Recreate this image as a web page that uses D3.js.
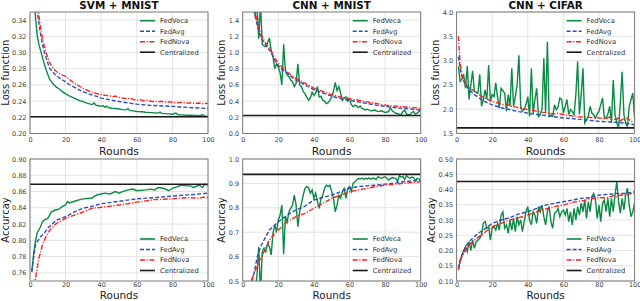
<!DOCTYPE html>
<html>
<head>
<meta charset="utf-8">
<script src="https://cdn.jsdelivr.net/npm/d3@7"></script>
<style>
body { margin: 0; background: #fff; }
text { font-family: "DejaVu Sans", sans-serif; }
</style>
</head>
<body>
<div class="grafico"></div>
<script>
// ---- dati: [round, valore] ----
var titoli = ["SVM + MNIST", "CNN + MNIST", "CNN + CIFAR"];
var nomiSerie = ["FedVeca", "FedAvg", "FedNova", "Centralized"];
var xTicks = [0, 20, 40, 60, 80, 100];

// Loss - SVM + MNIST
var svmLossVeca = [[1,0.5],[2,0.39],[3,0.345],[4,0.322],[5,0.31],[6,0.302],[7,0.294],[8,0.286],[9,0.279],[10,0.273],[11,0.267],[12,0.264],[13,0.261],[14,0.259],[15,0.257],[16,0.2555],[17,0.254],[18,0.252],[20,0.249],[22,0.2465],[24,0.2445],[26,0.2425],[28,0.2405],[30,0.239],[32,0.2375],[34,0.2362],[35,0.2358],[36,0.2378],[37,0.2348],[38,0.2345],[40,0.2335],[41,0.2345],[42,0.2325],[43,0.2338],[44,0.232],[46,0.2312],[48,0.2308],[50,0.2302],[52,0.2295],[54,0.2292],[55,0.2308],[56,0.2285],[58,0.228],[60,0.2272],[63,0.2268],[65,0.2262],[68,0.2258],[70,0.2255],[72,0.2252],[73,0.2265],[74,0.2248],[76,0.2245],[78,0.2242],[80,0.2238],[82,0.2252],[83,0.2232],[85,0.223],[88,0.2226],[90,0.2225],[93,0.2222],[95,0.222],[97,0.2232],[98,0.2218],[100,0.2215]];
var svmLossAvg = [[2,0.45],[3,0.38],[4,0.352],[5,0.336],[6,0.322],[7,0.31],[8,0.301],[9,0.294],[10,0.287],[11,0.281],[12,0.278],[14,0.273],[16,0.2695],[18,0.2665],[20,0.2637],[22,0.2605],[25,0.257],[28,0.2535],[30,0.2515],[33,0.249],[35,0.2475],[38,0.2455],[40,0.2437],[43,0.2425],[45,0.2415],[48,0.2402],[50,0.2395],[55,0.2378],[60,0.2362],[65,0.2352],[70,0.2345],[75,0.234],[80,0.2335],[85,0.2328],[90,0.232],[95,0.2315],[100,0.2308]];
var svmLossNova = [[3,0.45],[4,0.37],[5,0.345],[6,0.33],[7,0.318],[8,0.308],[9,0.3],[10,0.294],[11,0.288],[12,0.284],[14,0.278],[16,0.2745],[18,0.2725],[20,0.2707],[22,0.267],[25,0.262],[28,0.258],[30,0.2555],[33,0.2525],[35,0.251],[38,0.249],[40,0.2481],[42,0.2472],[45,0.2465],[47,0.2455],[48,0.2462],[50,0.2445],[53,0.2435],[55,0.243],[56,0.2438],[58,0.242],[60,0.2411],[62,0.2415],[64,0.2405],[66,0.241],[68,0.2398],[70,0.2395],[72,0.2392],[74,0.2398],[76,0.2388],[78,0.239],[80,0.2385],[83,0.238],[86,0.2385],[88,0.2375],[90,0.2378],[93,0.2372],[95,0.2376],[97,0.2368],[100,0.2372]];
var svmLossCentral = 0.2207;

// Loss - CNN + MNIST
var mnistLossVeca = [[6,1.7],[7,1.45],[8,1.6],[9,1.17],[10,1.6],[11,1.1],[12,1.08],[13,1.07],[14,1.12],[15,1.18],[16,1.02],[17,0.95],[18,0.8],[19,0.86],[20,0.82],[21,0.75],[22,0.6],[23,1.1],[24,0.78],[25,0.72],[26,0.7],[27,0.66],[28,0.64],[29,0.58],[30,0.62],[31,0.86],[32,0.6],[33,0.58],[34,0.52],[35,0.49],[36,0.45],[37,0.41],[38,0.44],[39,0.51],[40,0.47],[41,0.5],[42,0.58],[43,0.45],[44,0.46],[45,0.41],[46,0.4],[47,0.37],[48,0.38],[49,0.41],[50,0.45],[51,0.52],[52,0.63],[53,0.53],[54,0.58],[55,0.5],[56,0.41],[57,0.44],[58,0.45],[59,0.4],[60,0.43],[61,0.36],[62,0.33],[63,0.35],[64,0.34],[65,0.32],[66,0.34],[67,0.31],[68,0.3],[69,0.29],[70,0.3],[72,0.28],[74,0.29],[76,0.27],[78,0.28],[80,0.26],[82,0.27],[83,0.32],[84,0.28],[86,0.25],[88,0.24],[89,0.23],[90,0.27],[91,0.29],[92,0.24],[94,0.23],[95,0.26],[96,0.27],[97,0.24],[98,0.25],[100,0.29]];
var mnistLossAvg = [[5,1.75],[6,1.55],[7,1.45],[8,1.35],[9,1.27],[10,1.2],[12,1.12],[14,1.06],[16,1.0],[18,0.9],[20,0.84],[22,0.79],[25,0.74],[28,0.69],[30,0.66],[35,0.6],[40,0.54],[45,0.5],[50,0.46],[55,0.43],[60,0.41],[65,0.39],[70,0.37],[75,0.35],[80,0.335],[85,0.32],[90,0.31],[95,0.3],[100,0.29]];
var mnistLossNova = [[5,1.8],[6,1.6],[7,1.5],[8,1.4],[9,1.31],[10,1.24],[12,1.15],[14,1.08],[16,1.02],[18,0.93],[20,0.87],[22,0.82],[25,0.76],[28,0.71],[30,0.68],[35,0.62],[40,0.56],[45,0.52],[50,0.48],[55,0.45],[60,0.43],[65,0.41],[70,0.39],[75,0.37],[80,0.35],[85,0.34],[90,0.33],[95,0.32],[100,0.31]];
var mnistLossCentral = 0.222;

// Loss - CNN + CIFAR
var cifarLossVeca = [[1,2.88],[2,2.57],[3,2.62],[4,2.7],[5,2.43],[6,2.89],[7,2.2],[8,2.5],[9,2.79],[10,2.37],[11,2.35],[12,2.33],[13,2.72],[14,2.06],[15,2.2],[16,2.4],[17,2.2],[18,2.91],[19,2.16],[20,2.3],[21,2.26],[22,2.54],[23,2.25],[24,2.02],[25,2.43],[26,2.38],[27,2.33],[28,1.96],[29,2.3],[30,2.06],[31,2.84],[32,2.06],[33,2.26],[34,2.5],[35,3.11],[36,2.06],[37,1.96],[38,1.99],[39,2.1],[40,2.26],[41,1.85],[42,2.84],[43,1.92],[44,2.2],[45,2.43],[46,1.85],[47,1.89],[48,2.0],[49,3.05],[50,1.92],[51,3.39],[52,1.85],[53,1.88],[54,1.85],[55,2.09],[56,1.99],[57,2.05],[58,2.23],[59,2.2],[60,1.92],[61,2.05],[62,2.2],[63,1.89],[64,1.99],[65,1.95],[66,1.89],[67,2.3],[68,2.98],[69,1.89],[70,2.3],[71,2.84],[72,1.72],[73,1.79],[74,1.85],[75,2.06],[76,1.92],[77,1.88],[78,1.82],[79,1.9],[80,1.96],[81,2.1],[82,2.23],[83,1.82],[84,1.82],[85,1.9],[86,2.06],[87,1.72],[88,2.6],[89,1.9],[90,1.72],[91,1.62],[92,2.16],[93,2.77],[94,1.89],[95,1.7],[96,1.65],[97,2.06],[98,2.2],[99,2.33],[100,1.8]];
var cifarLossAvg = [[1,3.08],[2,2.84],[3,2.67],[4,2.58],[5,2.5],[6,2.45],[8,2.37],[10,2.3],[12,2.25],[15,2.17],[18,2.12],[20,2.09],[25,2.03],[30,1.99],[35,1.95],[40,1.92],[45,1.89],[50,1.87],[55,1.845],[60,1.82],[65,1.805],[70,1.79],[75,1.77],[80,1.75],[85,1.74],[90,1.73],[95,1.71],[100,1.68]];
var cifarLossNova = [[1,3.5],[2,2.94],[3,2.7],[4,2.6],[5,2.53],[6,2.48],[8,2.42],[10,2.37],[12,2.31],[15,2.24],[18,2.19],[20,2.16],[25,2.11],[28,2.08],[29,2.1],[30,2.07],[35,2.03],[40,1.99],[45,1.96],[48,1.94],[50,1.93],[55,1.9],[56,1.92],[60,1.89],[65,1.86],[70,1.84],[75,1.83],[80,1.82],[84,1.8],[86,1.84],[87,1.79],[90,1.79],[91,1.84],[92,1.76],[94,1.81],[95,1.77],[96,1.82],[98,1.75],[100,1.72]];
var cifarLossCentral = 1.615;

// Accuracy - SVM + MNIST
var svmAccVeca = [[1,0.7615],[2,0.782],[3,0.798],[4,0.809],[5,0.813],[6,0.817],[7,0.823],[8,0.825],[10,0.827],[12,0.835],[14,0.837],[16,0.838],[18,0.8415],[20,0.8435],[21,0.8477],[22,0.846],[25,0.848],[28,0.85],[30,0.851],[35,0.852],[36,0.854],[38,0.856],[40,0.857],[42,0.858],[45,0.857],[48,0.86],[50,0.858],[52,0.86],[55,0.862],[58,0.863],[60,0.861],[65,0.862],[68,0.863],[70,0.862],[72,0.865],[75,0.864],[78,0.861],[80,0.864],[83,0.866],[85,0.868],[88,0.867],[90,0.867],[92,0.865],[95,0.868],[97,0.865],[98,0.869],[100,0.868]];
var svmAccAvg = [[1,0.7615],[2,0.778],[3,0.794],[4,0.798],[6,0.8045],[8,0.8087],[10,0.815],[12,0.819],[15,0.825],[20,0.829],[25,0.835],[30,0.8395],[35,0.842],[40,0.845],[50,0.848],[60,0.851],[70,0.8525],[80,0.8545],[90,0.856],[100,0.858]];
var svmAccNova = [[2,0.72],[3,0.752],[4,0.7656],[5,0.778],[6,0.786],[7,0.794],[8,0.8],[10,0.809],[12,0.815],[15,0.821],[20,0.827],[25,0.831],[30,0.835],[35,0.8395],[40,0.8406],[45,0.842],[50,0.8435],[55,0.845],[60,0.847],[65,0.8485],[70,0.85],[75,0.8505],[80,0.851],[85,0.852],[90,0.8525],[95,0.8515],[97,0.853],[100,0.8525]];
var svmAccCentral = 0.869;

// Accuracy - CNN + MNIST
var mnistAccVeca = [[7,0.45],[8,0.52],[9,0.64],[10,0.45],[11,0.62],[12,0.634],[13,0.62],[14,0.654],[15,0.64],[16,0.607],[17,0.695],[18,0.73],[19,0.702],[20,0.75],[21,0.77],[22,0.811],[23,0.61],[24,0.764],[25,0.743],[26,0.784],[27,0.798],[28,0.811],[29,0.852],[30,0.811],[31,0.723],[32,0.784],[33,0.818],[34,0.852],[35,0.88],[36,0.887],[37,0.883],[38,0.86],[39,0.873],[40,0.839],[41,0.86],[42,0.825],[43,0.798],[44,0.839],[45,0.852],[46,0.88],[47,0.893],[48,0.887],[49,0.893],[50,0.866],[51,0.839],[52,0.784],[53,0.811],[54,0.852],[55,0.839],[56,0.866],[57,0.88],[58,0.839],[59,0.88],[60,0.887],[61,0.866],[62,0.9],[63,0.907],[64,0.914],[65,0.921],[66,0.918],[67,0.922],[68,0.916],[69,0.921],[70,0.918],[71,0.923],[72,0.917],[73,0.922],[74,0.92],[75,0.916],[76,0.928],[77,0.924],[78,0.921],[79,0.925],[80,0.927],[81,0.92],[82,0.914],[83,0.92],[84,0.924],[85,0.922],[86,0.921],[87,0.907],[88,0.932],[89,0.926],[90,0.928],[91,0.916],[92,0.932],[93,0.925],[94,0.921],[95,0.926],[96,0.924],[97,0.91],[98,0.921],[99,0.918],[100,0.914]];
var mnistAccAvg = [[5,0.5],[6,0.518],[8,0.593],[10,0.64],[12,0.668],[15,0.709],[20,0.743],[25,0.77],[30,0.791],[35,0.807],[40,0.832],[45,0.842],[50,0.852],[55,0.866],[60,0.88],[65,0.887],[70,0.89],[75,0.893],[80,0.897],[85,0.9],[90,0.907],[95,0.91],[100,0.914]];
var mnistAccNova = [[5,0.504],[6,0.525],[8,0.559],[10,0.593],[12,0.62],[15,0.668],[18,0.695],[20,0.709],[22,0.723],[25,0.743],[30,0.764],[35,0.777],[40,0.798],[45,0.818],[50,0.839],[55,0.852],[60,0.866],[65,0.873],[70,0.88],[75,0.887],[80,0.893],[85,0.896],[90,0.9],[95,0.904],[100,0.907]];
var mnistAccCentral = 0.937;

// Accuracy - CNN + CIFAR
var cifarAccVeca = [[1,0.1415],[2,0.165],[3,0.185],[4,0.2],[5,0.2126],[6,0.196],[7,0.229],[8,0.2],[9,0.234],[10,0.207],[11,0.229],[12,0.234],[13,0.24],[14,0.251],[15,0.289],[16,0.2945],[17,0.273],[18,0.278],[19,0.234],[20,0.273],[21,0.278],[22,0.267],[23,0.289],[24,0.267],[25,0.316],[26,0.327],[27,0.273],[28,0.284],[29,0.256],[30,0.3],[31,0.267],[32,0.305],[33,0.262],[34,0.311],[35,0.284],[36,0.3],[37,0.262],[38,0.2945],[39,0.327],[40,0.344],[41,0.3],[42,0.284],[43,0.327],[44,0.316],[45,0.289],[46,0.344],[47,0.327],[48,0.349],[49,0.311],[50,0.284],[51,0.327],[52,0.344],[53,0.2945],[54,0.273],[55,0.322],[56,0.327],[57,0.338],[58,0.311],[59,0.327],[60,0.333],[61,0.316],[62,0.338],[63,0.2945],[64,0.327],[65,0.284],[66,0.338],[67,0.3],[68,0.344],[69,0.316],[70,0.355],[71,0.327],[72,0.366],[73,0.305],[74,0.36],[75,0.327],[76,0.377],[77,0.387],[78,0.366],[79,0.305],[80,0.349],[81,0.2945],[82,0.355],[83,0.366],[84,0.327],[85,0.371],[86,0.311],[87,0.371],[88,0.327],[89,0.382],[90,0.426],[91,0.36],[92,0.322],[93,0.371],[94,0.333],[95,0.382],[96,0.404],[97,0.349],[98,0.311],[99,0.327],[100,0.355]];
var cifarAccAvg = [[1,0.1415],[2,0.169],[3,0.185],[4,0.196],[5,0.2126],[7,0.229],[10,0.245],[12,0.256],[15,0.267],[20,0.289],[25,0.3],[30,0.3077],[35,0.32],[40,0.327],[45,0.338],[50,0.349],[55,0.3546],[60,0.36],[65,0.3656],[70,0.371],[75,0.373],[80,0.382],[85,0.384],[90,0.387],[95,0.387],[100,0.393]];
var cifarAccNova = [[1,0.136],[2,0.163],[3,0.18],[5,0.2],[7,0.218],[10,0.234],[15,0.256],[20,0.278],[25,0.289],[30,0.3],[35,0.3077],[40,0.316],[45,0.327],[50,0.336],[55,0.344],[60,0.349],[65,0.358],[70,0.362],[75,0.369],[80,0.373],[85,0.373],[88,0.38],[90,0.376],[92,0.382],[95,0.38],[97,0.386],[100,0.387]];
var cifarAccCentral = 0.426;

// ---- impostazioni dei pannelli ----
var w = 640, h = 301;
var colonneX = [30, 242.7, 456.6];
var larghezzaPannello = 178;
var righe = [
  {top: 12, h: 121.5, rounds: 154.5, pad: 3.5, fontRounds: 10.8},
  {top: 159, h: 122, rounds: 298.6, pad: 1.5, fontRounds: 10.4}
];

var pannelli = [
  {col: 0, row: 0, ylabel: "Loss function", dom: [0.20, 0.35], ticks: d3.range(0.20, 0.345, 0.02), fmt: ".2f",
   serie: [svmLossVeca, svmLossAvg, svmLossNova], central: svmLossCentral, legenda: "top"},
  {col: 1, row: 0, ylabel: "Loss function", dom: [0, 1.5], ticks: d3.range(0, 1.45, 0.2), fmt: ".1f",
   serie: [mnistLossVeca, mnistLossAvg, mnistLossNova], central: mnistLossCentral, legenda: "top"},
  {col: 2, row: 0, ylabel: "Loss function", dom: [1.5, 4.0], ticks: d3.range(1.5, 4.05, 0.5), fmt: ".1f",
   serie: [cifarLossVeca, cifarLossAvg, cifarLossNova], central: cifarLossCentral, legenda: "top"},
  {col: 0, row: 1, ylabel: "Accurcay", dom: [0.75, 0.90], ticks: d3.range(0.76, 0.905, 0.02), fmt: ".2f",
   serie: [svmAccVeca, svmAccAvg, svmAccNova], central: svmAccCentral, legenda: "bottom"},
  {col: 1, row: 1, ylabel: "Accurcay", dom: [0.5, 1.0], ticks: d3.range(0.5, 1.05, 0.1), fmt: ".1f",
   serie: [mnistAccVeca, mnistAccAvg, mnistAccNova], central: mnistAccCentral, legenda: "bottom"},
  {col: 2, row: 1, ylabel: "Accurcay", dom: [0.10, 0.50], ticks: d3.range(0.10, 0.505, 0.05), fmt: ".2f",
   serie: [cifarAccVeca, cifarAccAvg, cifarAccNova], central: cifarAccCentral, legenda: "bottom"}
];

var stili = [
  {colore: "#0b8a45", dash: null},
  {colore: "#2c4fb3", dash: "4,2"},
  {colore: "#ff2020", dash: "5,1.6,1.2,1.6"},
  {colore: "#1a1a1a", dash: null}
];

var svg = d3.select(".grafico")
  .append("svg")
  .attr("width", w)
  .attr("height", h);

pannelli.forEach(function (p, i) {
  var x0 = colonneX[p.col];
  var r = righe[p.row];
  var x = d3.scaleLinear().domain([0, 100]).range([0, larghezzaPannello]);
  var y = d3.scaleLinear().domain(p.dom).range([r.h, 0]);

  var g = svg.append("g").attr("transform", "translate(" + x0 + "," + r.top + ")");

  g.append("clipPath").attr("id", "clip" + i)
    .append("rect").attr("width", larghezzaPannello).attr("height", r.h);

  // griglia
  g.selectAll(".gx").data(xTicks).enter().append("line")
    .attr("x1", function (d) { return x(d); }).attr("x2", function (d) { return x(d); })
    .attr("y1", 0).attr("y2", r.h)
    .attr("stroke", "#e3e3e3").attr("stroke-width", 1);
  g.selectAll(".gy").data(p.ticks).enter().append("line")
    .attr("x1", 0).attr("x2", larghezzaPannello)
    .attr("y1", function (d) { return y(d); }).attr("y2", function (d) { return y(d); })
    .attr("stroke", "#e3e3e3").attr("stroke-width", 1);

  // assi
  var ay = g.append("g").call(d3.axisLeft(y).tickValues(p.ticks).tickFormat(d3.format(p.fmt)).tickSize(0).tickPadding(3.5));
  var ax = g.append("g").attr("transform", "translate(0," + r.h + ")")
    .call(d3.axisBottom(x).tickValues(xTicks).tickSize(0).tickPadding(r.pad));
  [ax, ay].forEach(function (a) {
    a.select(".domain").remove();
    a.selectAll("text").attr("font-size", 6.5).attr("fill", "#444").attr("font-family", "DejaVu Sans");
  });

  // linee
  var linea = d3.line().x(function (d) { return x(d[0]); }).y(function (d) { return y(d[1]); });
  var gl = g.append("g").attr("clip-path", "url(#clip" + i + ")");
  p.serie.forEach(function (s, k) {
    gl.append("path").datum(s)
      .attr("d", linea)
      .attr("fill", "none")
      .attr("stroke", stili[k].colore)
      .attr("stroke-width", 1.4)
      .attr("stroke-dasharray", stili[k].dash);
  });
  gl.append("path").datum([[0, p.central], [100, p.central]])
    .attr("d", linea)
    .attr("fill", "none")
    .attr("stroke", stili[3].colore)
    .attr("stroke-width", 1.6);

  // cornice
  g.append("rect").attr("width", larghezzaPannello).attr("height", r.h)
    .attr("fill", "none").attr("stroke", "#7a7a7a").attr("stroke-width", 1);

  // legenda
  var ly0 = p.legenda === "top" ? 8.7 : r.h - 42;
  nomiSerie.forEach(function (nome, k) {
    var ly = ly0 + k * 10.5;
    g.append("line")
      .attr("x1", 110).attr("x2", 125).attr("y1", ly).attr("y2", ly)
      .attr("stroke", stili[k].colore).attr("stroke-width", 1.6)
      .attr("stroke-dasharray", stili[k].dash);
    g.append("text")
      .attr("x", 130).attr("y", ly).attr("dy", "0.35em")
      .attr("font-size", 6.8).attr("fill", "#333")
      .text(nome);
  });

  // etichette
  var yoff = p.fmt === ".2f" ? -21.3 : -17.5;
  g.append("text")
    .attr("transform", "translate(" + yoff + "," + (r.h / 2) + ") rotate(-90)")
    .attr("text-anchor", "middle")
    .attr("font-size", 10).attr("fill", "#222")
    .text(p.ylabel);
  g.append("text")
    .attr("x", larghezzaPannello / 2).attr("y", r.rounds - r.top)
    .attr("text-anchor", "middle")
    .attr("font-size", r.fontRounds).attr("fill", "#222")
    .text("Rounds");
  if (p.row === 0) {
    g.append("text")
      .attr("x", larghezzaPannello / 2).attr("y", -3.2)
      .attr("text-anchor", "middle")
      .attr("font-size", 10.4).attr("font-weight", "bold").attr("fill", "#111")
      .text(titoli[p.col]);
  }
});
</script>
</body>
</html>
